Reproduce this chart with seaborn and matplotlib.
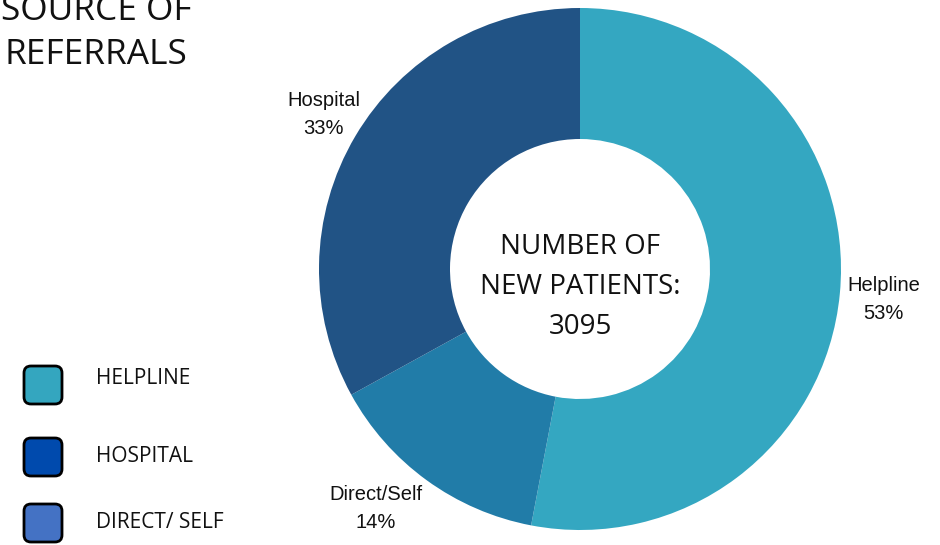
import matplotlib
matplotlib.use("Agg")
import matplotlib.pyplot as plt
import seaborn as sns
import numpy as np
from matplotlib.patches import FancyBboxPatch

# data
sources = ["Helpline", "Direct/Self", "Hospital"]
shares = [53, 14, 33]
wedge_colors = ["#34A7C1", "#217CA8", "#215385"]
legend_names = ["HELPLINE", "HOSPITAL", "DIRECT/ SELF"]
legend_colors = ["#34A6BF", "#004AAD", "#4472C4"]
total_patients = 3095

sns.set_theme(style="white")
plt.rcParams["font.family"] = ["Open Sans", "DejaVu Sans"]

W, H = 940, 545
fig = plt.figure(figsize=(W / 100, H / 100), dpi=100)
ax = fig.add_axes([0, 0, 1, 1])
ax.set_xlim(0, W)
ax.set_ylim(0, H)
ax.set_aspect("equal")
ax.axis("off")

cx, cy, R = 580, 276, 261
labels = [f"{s}\n{v}%" for s, v in zip(sources, shares)]
wedges, texts = ax.pie(shares, colors=wedge_colors, startangle=90, counterclock=False,
                       center=(cx, cy), radius=R, labels=labels, labeldistance=1.16,
                       wedgeprops=dict(width=R - 130, linewidth=0),
                       textprops=dict(family=["Liberation Sans", "DejaVu Sans"],
                                      fontsize=14.5, color="#111111", linespacing=1.6))
ax.set_xlim(0, W)
ax.set_ylim(0, H)
for t in texts:
    t.set_horizontalalignment("center")
    t.set_verticalalignment("center")
# nudge labels like the original
x, y = texts[1].get_position()
texts[1].set_position((x - 26, y + 5))
x, y = texts[2].get_position()
texts[2].set_position((x + 4, y))
x, y = texts[0].get_position()
texts[0].set_position((x + 2, y - 2))

ax.text(cx, cy - 18, f"NUMBER OF\nNEW PATIENTS:\n{total_patients}", ha="center", va="center",
        fontsize=20, color="#111111", linespacing=1.56)

ax.text(96, H - 33, "SOURCE OF\nREFERRALS", ha="center", va="center",
        fontsize=25.4, color="#111111", linespacing=1.42)

legend_y = [385, 457, 523]
for name, col, py in zip(legend_names, legend_colors, legend_y):
    y = H - py
    box = FancyBboxPatch((24, y - 19), 38, 38, boxstyle="round,pad=0,rounding_size=7",
                         facecolor=col, edgecolor="black", linewidth=2)
    ax.add_patch(box)
    ax.text(96, y + (7 if name == "HELPLINE" else 0), name, ha="left", va="center",
            fontsize=15, color="#111111")

fig.savefig("out.png", dpi=100)
